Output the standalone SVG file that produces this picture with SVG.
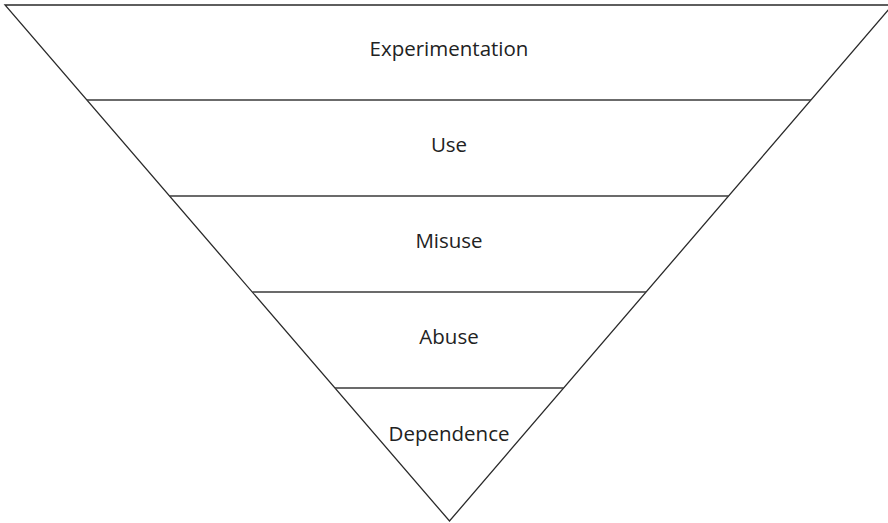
<svg xmlns="http://www.w3.org/2000/svg" width="888" height="523" viewBox="0 0 888 523">
  <style>
    .edge { fill: none; stroke: #2a2a2a; stroke-width: 1.3; stroke-linejoin: miter; }
    .sep { stroke: #3a3a3a; stroke-width: 1.3; }
    .label { font-family: "Open Sans", "Noto Sans", "Liberation Sans", sans-serif; font-size: 20.5px; fill: #222; text-anchor: middle; }
  </style>
  <rect width="888" height="523" fill="#fff"/>
  <!-- inverted triangle outline and band separators -->
  <g id="connectors">
    <polygon class="edge" points="5,5 892.5,5 449.5,521"/>
    <line class="sep" x1="87" y1="100" x2="811" y2="100"/>
    <line class="sep" x1="169.7" y1="196" x2="728.5" y2="196"/>
    <line class="sep" x1="252.4" y1="292" x2="646" y2="292"/>
    <line class="sep" x1="335" y1="388" x2="563.7" y2="388"/>
  </g>
  <g id="experimentation"><text class="label" x="449" y="56">Experimentation</text></g>
  <g id="use"><text class="label" x="449" y="151.5">Use</text></g>
  <g id="misuse"><text class="label" x="449" y="247.5">Misuse</text></g>
  <g id="abuse"><text class="label" x="449" y="343.5">Abuse</text></g>
  <g id="dependence"><text class="label" x="449" y="441">Dependence</text></g>
</svg>
